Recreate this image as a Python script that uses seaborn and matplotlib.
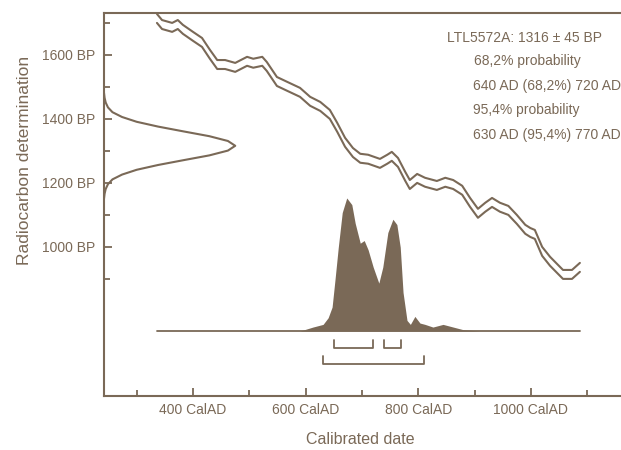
import matplotlib
matplotlib.use("Agg")
import matplotlib.pyplot as plt
import numpy as np
import pandas as pd
import seaborn as sns

# calibration curve (mid line, BP)
cal_years = [336, 345, 363, 373, 382, 400, 416, 430, 443, 457, 475, 496, 507, 523, 531,
             549, 567, 590, 608, 626, 643, 656, 670, 684, 697, 711, 732, 745, 753, 764,
             777, 785, 798, 812, 833, 848, 862, 878, 892, 906, 919, 931, 945, 960, 975,
             990, 999, 1007, 1020, 1034, 1048, 1057, 1073, 1087]
cal_bp = [1714, 1695, 1686, 1695, 1680, 1658, 1639, 1602, 1570, 1570, 1561, 1580, 1574, 1580, 1564,
          1517, 1502, 1483, 1455, 1439, 1414, 1374, 1327, 1295, 1277, 1274, 1261, 1274, 1283, 1264,
          1220, 1195, 1214, 1202, 1192, 1202, 1195, 1177, 1139, 1105, 1124, 1139, 1124, 1114, 1086,
          1055, 1045, 1039, 986, 955, 930, 914, 914, 936]
cal_sigma = 14

# calibrated probability (relative, peak = 100)
dens_years = [590, 613, 631, 640, 647, 652, 658, 665, 673, 682, 688, 697, 704, 711, 720, 730,
              737, 746, 755, 762, 768, 773, 780, 786, 794, 803, 812, 826, 844, 862, 880, 910]
dens_prob = [0, 3, 5, 10, 18, 38, 63, 89, 100, 95, 81, 66, 68, 61, 48, 36,
             48, 74, 84, 80, 63, 29, 8, 5, 11, 6, 5, 3, 5, 3, 1, 0]

# radiocarbon measurement distribution (width in years at each BP level)
meas_bp = [1151, 1166, 1181, 1196, 1211, 1226, 1241, 1256, 1271, 1286, 1301, 1316,
           1331, 1346, 1361, 1376, 1391, 1406, 1421, 1436, 1451, 1466, 1481]
meas_width = [0, 1, 3, 7, 15, 32, 58, 96, 141, 187, 220, 233,
              220, 187, 141, 96, 58, 32, 15, 7, 3, 1, 0]

ranges_68 = [(650, 720), (740, 770)]
ranges_95 = [(630, 810)]

info_lines = ["LTL5572A: 1316 ± 45 BP", "68,2% probability", "640 AD (68,2%) 720 AD",
              "95,4% probability", "630 AD (95,4%) 770 AD"]

x_major = [400, 600, 800, 1000]
x_minor = [300, 500, 700, 900, 1100]
y_major = [1000, 1200, 1400, 1600]
y_minor = [900, 1100, 1300, 1500, 1700]

brown = "#7a6957"
xmin, xmax = 242, 1160
ymin, ymax = 534, 1730

sns.set_style("ticks")
plt.rcParams["font.family"] = ["Liberation Sans", "DejaVu Sans"]

fig = plt.figure(figsize=(6.21, 4.5), dpi=100)
ax = fig.add_axes([0.1675, 0.12, 0.8325, 0.8504])

cal = pd.DataFrame({"year": cal_years, "bp": cal_bp})
sns.lineplot(x=cal["year"], y=cal["bp"] + cal_sigma, ax=ax, color=brown, lw=1.5)
sns.lineplot(x=cal["year"], y=cal["bp"] - cal_sigma, ax=ax, color=brown, lw=1.5)

# probability distribution on the baseline
base = 737
scale = 4.16
ax.plot([cal_years[0], cal_years[-1]], [base, base], color=brown, lw=1.3)
ax.fill_between(dens_years, base, base + np.array(dens_prob) * scale,
                color=brown, lw=0)

# measurement distribution along the y axis
sns.lineplot(x=xmin + np.array(meas_width), y=meas_bp, ax=ax, color=brown,
             lw=1.5, orient="y", sort=False)

# probability ranges
for x0, x1 in ranges_68:
    ax.plot([x0, x0, x1, x1], [709, 684, 684, 709], color=brown, lw=1.3)
for x0, x1 in ranges_95:
    ax.plot([x0, x0, x1, x1], [659, 634, 634, 659], color=brown, lw=1.3)

ax.set_xlim(xmin, xmax)
ax.set_ylim(ymin, ymax)
ax.set_xticks(x_major)
ax.set_xticklabels([f"{v} CalAD" for v in x_major])
ax.set_xticks(x_minor, minor=True)
ax.set_yticks(y_major)
ax.set_yticklabels([f"{v} BP" for v in y_major])
ax.set_yticks(y_minor, minor=True)
ax.tick_params(which="both", direction="in", color=brown, labelcolor=brown,
               width=1.3, labelsize=10)
ax.tick_params(which="major", length=6)
ax.tick_params(which="minor", length=4)
ax.tick_params(axis="x", pad=5)
ax.tick_params(axis="y", pad=6)
ax.spines["right"].set_visible(False)
for s in ["left", "bottom", "top"]:
    ax.spines[s].set_color(brown)
    ax.spines[s].set_linewidth(1.5)

ax.set_xlabel("Calibrated date", color=brown, fontsize=11.5)
ax.set_ylabel("Radiocarbon determination", color=brown, fontsize=12.5)
ax.xaxis.set_label_coords(0.495, -0.095)
ax.yaxis.set_label_coords(-0.14, 0.615)

tx = [447, 474, 473, 473, 473]
ty = [38, 61, 86, 110, 135]
for t, x, y in zip(info_lines, tx, ty):
    fig.text(x / 621, 1 - y / 450, t, color=brown, fontsize=10, va="center", ha="left")

fig.savefig("out.png", dpi=100)
